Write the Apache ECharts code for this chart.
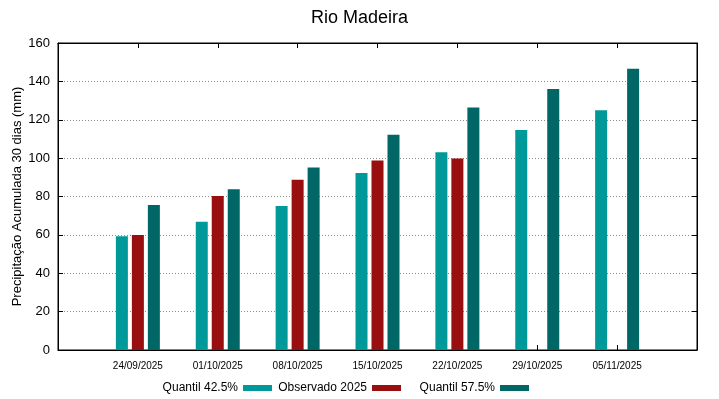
<!DOCTYPE html>
<html>
<head>
<meta charset="utf-8">
<script src="https://cdn.jsdelivr.net/npm/echarts@6/dist/echarts.min.js"></script>
<style>
  html, body { margin: 0; padding: 0; background: #fff; }
  #main { width: 719px; height: 399px; }
</style>
</head>
<body>
<div id="main"></div>
<script>
var dates = ['24/09/2025', '01/10/2025', '08/10/2025', '15/10/2025', '22/10/2025', '29/10/2025', '05/11/2025']
var quantil425 = [59.3, 66.8, 75.1, 92.2, 103.0, 114.6, 125.0]
var observado = [60.0, 80.3, 88.7, 98.8, 99.8, null, null]
var quantil575 = [75.6, 83.8, 95.1, 112.2, 126.4, 136.0, 146.6]
var yTicks = [0, 20, 40, 60, 80, 100, 120, 140, 160]

var font = 'Liberation Sans, Arial, sans-serif'

function toPoints (arr) {
  var out = []
  for (var i = 0; i < arr.length; i++) {
    if (arr[i] !== null) out.push([i, arr[i]])
  }
  return out
}

var chart = echarts.init(document.getElementById('main'))

var legendBase = {
  orient: 'horizontal',
  top: 382,
  align: 'right',
  itemWidth: 29,
  itemHeight: 6,
  icon: 'rect',
  textStyle: { fontFamily: font, fontSize: 12, color: '#000' },
  padding: 0
}

var tickStyle = { show: true, inside: true, length: 5, lineStyle: { color: '#000' } }
var lineStyle = { show: true, onZero: false, lineStyle: { color: '#000' } }

var option = {
  animation: false,
  textStyle: { fontFamily: font },
  title: {
    text: 'Rio Madeira',
    left: 'center',
    top: 4,
    textStyle: { fontFamily: font, fontSize: 18, fontWeight: 'normal', color: '#000' }
  },
  // gnuplot style key: text first, swatch after, fixed slots
  legend: [
    Object.assign({}, legendBase, { right: 447, data: ['Quantil 42.5%'] }),
    Object.assign({}, legendBase, { right: 318, data: ['Observado 2025'] }),
    Object.assign({}, legendBase, { right: 190, data: ['Quantil 57.5%'] })
  ],
  grid: {
    left: 58,
    right: 22,
    top: 43,
    bottom: 49,
    outerBoundsMode: 'none',
    show: true,
    borderColor: '#000',
    borderWidth: 1
  },
  xAxis: [
    {
      type: 'value',
      min: -1,
      max: 7,
      interval: 1,
      position: 'bottom',
      axisLine: lineStyle,
      axisTick: tickStyle,
      splitLine: { show: false },
      axisLabel: {
        fontSize: 10,
        color: '#000',
        margin: 11,
        formatter: function (v) { return dates[v] || '' }
      }
    },
    {
      type: 'value',
      min: -1,
      max: 7,
      interval: 1,
      position: 'top',
      axisLine: lineStyle,
      axisTick: tickStyle,
      splitLine: { show: false },
      axisLabel: { show: false }
    }
  ],
  yAxis: [
    {
      type: 'value',
      min: yTicks[0],
      max: yTicks[yTicks.length - 1],
      interval: 20,
      position: 'left',
      name: 'Precipitação Acumulada 30 dias (mm)',
      nameLocation: 'middle',
      nameGap: 34,
      nameMoveOverlap: false,
      nameTextStyle: { fontFamily: font, fontSize: 13, color: '#000' },
      axisLine: lineStyle,
      axisTick: tickStyle,
      axisLabel: { fontSize: 13, color: '#000', margin: 8 },
      splitLine: { show: true, lineStyle: { color: '#8c8c8c', type: [1, 2], width: 1 } }
    },
    {
      type: 'value',
      min: yTicks[0],
      max: yTicks[yTicks.length - 1],
      interval: 20,
      position: 'right',
      axisLine: lineStyle,
      axisTick: tickStyle,
      axisLabel: { show: false },
      splitLine: { show: false }
    }
  ],
  series: [
    {
      name: 'Quantil 42.5%',
      type: 'bar',
      data: toPoints(quantil425),
      barWidth: 12,
      barGap: '33.3%',
      itemStyle: { color: '#009999' }
    },
    {
      name: 'Observado 2025',
      type: 'bar',
      data: toPoints(observado),
      barWidth: 12,
      barGap: '33.3%',
      itemStyle: { color: '#990e0e' }
    },
    {
      name: 'Quantil 57.5%',
      type: 'bar',
      data: toPoints(quantil575),
      barWidth: 12,
      barGap: '33.3%',
      itemStyle: { color: '#006666' }
    }
  ]
}

chart.setOption(option)
</script>
</body>
</html>
